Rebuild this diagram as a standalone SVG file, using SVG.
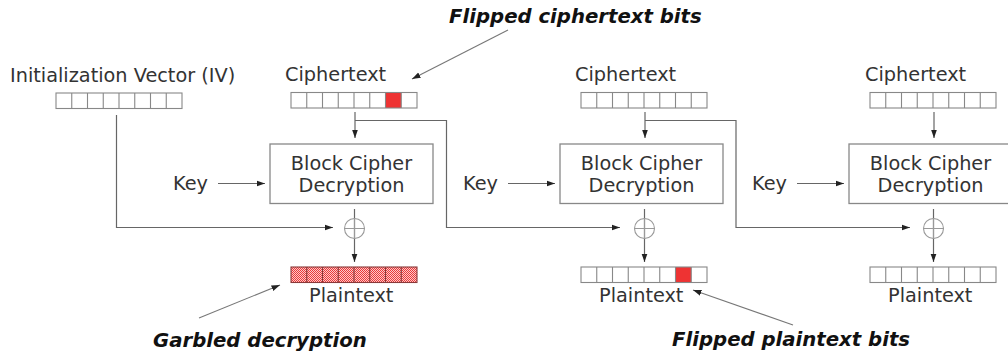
<svg xmlns="http://www.w3.org/2000/svg" xmlns:xlink="http://www.w3.org/1999/xlink" width="1008" height="353" viewBox="0 0 1008 353">
<style>
.t{font-family:"DejaVu Sans","Liberation Sans",sans-serif;font-size:19.3px;fill:#333}
.a{font-family:"DejaVu Sans","Liberation Sans",sans-serif;font-size:19.7px;font-weight:bold;font-style:italic;fill:#111}
.ln{stroke:#666;stroke-width:1.2;fill:none}
.an{stroke:#777;stroke-width:1.1;fill:none}
.box{fill:#fff;stroke:#888;stroke-width:1.3}
.cell{fill:none;stroke:#888;stroke-width:1.1}
.red{fill:#ee3333}
.xor{fill:none;stroke:#999;stroke-width:1.1}
</style>
<defs>
<marker id="ah" markerWidth="9" markerHeight="7" refX="8.5" refY="3.5" orient="auto" markerUnits="userSpaceOnUse">
<path d="M0,0.5 L8.5,3.5 L0,6.5 z" fill="#222"/>
</marker>
<pattern id="garble" width="2" height="2" patternUnits="userSpaceOnUse">
<rect width="2" height="2" fill="#e83a3a"/>
<rect x="1" y="0" width="1" height="1" fill="#ffc8c8"/>
<rect x="0" y="1" width="1" height="1" fill="#ffc8c8"/>
</pattern>
<g id="blk">
<rect x="0" y="0" width="126" height="15.5" class="cell"/>
<path class="cell" d="M15.75,0V15.5M31.5,0V15.5M47.25,0V15.5M63,0V15.5M78.75,0V15.5M94.5,0V15.5M110.25,0V15.5"/>
</g>
</defs>
<rect width="1008" height="353" fill="#fff"/>

<g id="connectors">
<path class="ln" d="M116.5,115 V227.5 H333" marker-end="url(#ah)"/>
<path class="ln" d="M355,112 V138" marker-end="url(#ah)"/>
<path class="ln" d="M355,120.5 H446.5 V227.5 H620" marker-end="url(#ah)"/>
<path class="ln" d="M645,112 V138" marker-end="url(#ah)"/>
<path class="ln" d="M645,120.5 H736 V227.5 H910" marker-end="url(#ah)"/>
<path class="ln" d="M934,112 V138" marker-end="url(#ah)"/>
<path class="ln" d="M218,183.5 H265" marker-end="url(#ah)"/>
<path class="ln" d="M508,183.5 H555" marker-end="url(#ah)"/>
<path class="ln" d="M797,183.5 H844" marker-end="url(#ah)"/>
<path class="ln" d="M354.5,209 V262" marker-end="url(#ah)"/>
<path class="ln" d="M644.5,209 V262" marker-end="url(#ah)"/>
<path class="ln" d="M933.5,209 V262" marker-end="url(#ah)"/>
<path class="an" d="M508,30 L412,79" marker-end="url(#ah)"/>
<path class="an" d="M199,318 L280,285" marker-end="url(#ah)"/>
<path class="an" d="M793,325 L693,290" marker-end="url(#ah)"/>
</g>

<g id="iv">
<text class="t" x="10" y="82">Initialization Vector (IV)</text>
<rect x="56" y="93" width="126" height="15.5" fill="#fff"/>
<use xlink:href="#blk" href="#blk" x="56" y="93"/>
</g>

<g id="ciphertext1">
<text class="t" x="285" y="81">Ciphertext</text>
<rect x="291" y="92.5" width="126" height="15.5" fill="#fff"/>
<rect class="red" x="385.5" y="92.5" width="15.75" height="15.5"/>
<use xlink:href="#blk" href="#blk" x="291" y="92.5"/>
</g>
<g id="ciphertext2">
<text class="t" x="575" y="81">Ciphertext</text>
<rect x="581" y="92.5" width="126" height="15.5" fill="#fff"/>
<use xlink:href="#blk" href="#blk" x="581" y="92.5"/>
</g>
<g id="ciphertext3">
<text class="t" x="865" y="81">Ciphertext</text>
<rect x="870" y="92.5" width="126" height="15.5" fill="#fff"/>
<use xlink:href="#blk" href="#blk" x="870" y="92.5"/>
</g>

<g id="decrypt1">
<rect class="box" x="270" y="144" width="163" height="59.5"/>
<text class="t" x="351.5" y="169.5" text-anchor="middle">Block Cipher</text>
<text class="t" x="351.5" y="192" text-anchor="middle">Decryption</text>
</g>
<g id="decrypt2">
<rect class="box" x="560" y="144" width="163" height="59.5"/>
<text class="t" x="641.5" y="169.5" text-anchor="middle">Block Cipher</text>
<text class="t" x="641.5" y="192" text-anchor="middle">Decryption</text>
</g>
<g id="decrypt3">
<rect class="box" x="849" y="144" width="163" height="59.5"/>
<text class="t" x="930.5" y="169.5" text-anchor="middle">Block Cipher</text>
<text class="t" x="930.5" y="192" text-anchor="middle">Decryption</text>
</g>

<g id="key1"><text class="t" x="173" y="190">Key</text></g>
<g id="key2"><text class="t" x="463" y="190">Key</text></g>
<g id="key3"><text class="t" x="752" y="190">Key</text></g>

<g id="xor1">
<circle class="xor" cx="354.5" cy="228.5" r="10"/>
<path class="xor" d="M344.5,228.5 H364.5 M354.5,218.5 V238.5"/>
</g>
<g id="xor2">
<circle class="xor" cx="644.5" cy="228.5" r="10"/>
<path class="xor" d="M634.5,228.5 H654.5 M644.5,218.5 V238.5"/>
</g>
<g id="xor3">
<circle class="xor" cx="933.5" cy="228.5" r="10"/>
<path class="xor" d="M923.5,228.5 H943.5 M933.5,218.5 V238.5"/>
</g>

<g id="plaintext1">
<rect x="291" y="267" width="126" height="15.5" fill="url(#garble)"/>
<rect x="291" y="267" width="126" height="15.5" fill="none" stroke="#8a3a3a" stroke-width="1.1"/>
<path d="M306.75,267V282.5M322.5,267V282.5M338.25,267V282.5M354,267V282.5M369.75,267V282.5M385.5,267V282.5M401.25,267V282.5" stroke="#8a3a3a" stroke-width="1.1" fill="none"/>
<text class="t" x="309" y="302">Plaintext</text>
</g>
<g id="plaintext2">
<rect x="581" y="267" width="126" height="15.5" fill="#fff"/>
<rect class="red" x="675.5" y="267" width="15.75" height="15.5"/>
<use xlink:href="#blk" href="#blk" x="581" y="267"/>
<text class="t" x="599" y="302">Plaintext</text>
</g>
<g id="plaintext3">
<rect x="870" y="267" width="126" height="15.5" fill="#fff"/>
<use xlink:href="#blk" href="#blk" x="870" y="267"/>
<text class="t" x="888" y="302">Plaintext</text>
</g>

<g id="labels">
<text class="a" x="449" y="23">Flipped ciphertext bits</text>
<text class="a" x="153" y="347">Garbled decryption</text>
<text class="a" x="672" y="346">Flipped plaintext bits</text>
</g>
</svg>
